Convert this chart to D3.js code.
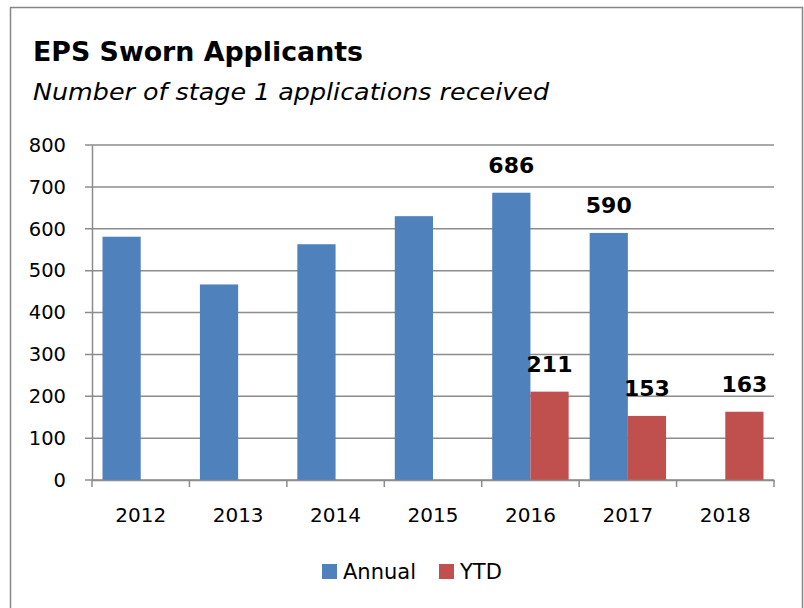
<!DOCTYPE html>
<html>
<head>
<meta charset="utf-8">
<script src="https://cdn.jsdelivr.net/npm/d3@7"></script>
<style>
  body { margin: 0; background: #fff; }
  svg { display: block; font-family: "DejaVu Sans", sans-serif; }
</style>
</head>
<body>
<div id="chart"></div>
<script>
// chart data
const years = ["2012", "2013", "2014", "2015", "2016", "2017", "2018"];
const annual = [581, 467, 563, 630, 686, 590, null];
const ytd = [null, null, null, null, 211, 153, 163];
const seriesNames = ["Annual", "YTD"];
const seriesColors = ["#4F81BD", "#C0504D"];
const yTicks = [0, 100, 200, 300, 400, 500, 600, 700, 800];
// which bars carry a value label
const labelAnnual = [false, false, false, false, true, true, false];
const labelYtd = [false, false, false, false, true, true, true];

const width = 804, height = 608;
const margin = {top: 145, right: 30, bottom: 128, left: 92};
const font = '"DejaVu Sans", sans-serif';

const svg = d3.select('#chart').append('svg')
    .attr('width', width)
    .attr('height', height);

// outer frame
svg.append('rect')
    .attr('x', 10.5).attr('y', 7.5)
    .attr('width', 792).attr('height', 620)
    .attr('fill', 'none')
    .attr('stroke', '#868686')
    .attr('stroke-width', 1.5);

svg.append('text')
    .attr('x', 33).attr('y', 61)
    .attr('font-size', 26)
    .attr('font-weight', 'bold')
    .attr('fill', '#000')
    .attr('textLength', 330)
    .attr('lengthAdjust', 'spacingAndGlyphs')
    .text('EPS Sworn Applicants');

svg.append('text')
    .attr('x', 33).attr('y', 100)
    .attr('font-size', 23)
    .attr('font-style', 'italic')
    .attr('fill', '#000')
    .attr('textLength', 516)
    .attr('lengthAdjust', 'spacingAndGlyphs')
    .text('Number of stage 1 applications received');

const plotW = 774 - margin.left;
const plotH = 480 - margin.top;

const chart = svg.append('g')
    .attr('transform', `translate(${margin.left},${margin.top})`);

const xScale = d3.scaleBand()
    .domain(years)
    .range([0, plotW])
    .padding(0);

const xInner = d3.scaleBand()
    .domain(seriesNames)
    .range([10.5, xScale.bandwidth() - 10.5])
    .padding(0);

const yScale = d3.scaleLinear()
    .domain([0, 800])
    .range([plotH, 0]);

// gridlines
chart.append('g')
    .selectAll('line')
    .data(yTicks)
    .join('line')
    .attr('x1', -7)
    .attr('x2', plotW)
    .attr('y1', d => yScale(d))
    .attr('y2', d => yScale(d))
    .attr('stroke', '#8c8c8c')
    .attr('stroke-width', 1.5);

// y axis
const yAxisG = chart.append('g')
    .call(d3.axisLeft(yScale).tickValues(yTicks).tickSize(0).tickPadding(26));
yAxisG.select('.domain').attr('stroke', '#8c8c8c').attr('stroke-width', 1.5);
yAxisG.selectAll('text')
    .attr('font-size', 19.5)
    .attr('font-family', font)
    .attr('fill', '#000');

// bars
const rows = years.map((y, i) => ({year: y, values: [annual[i], ytd[i]], labels: [labelAnnual[i], labelYtd[i]]}));

const groups = chart.append('g')
    .selectAll('g')
    .data(rows)
    .join('g')
    .attr('transform', d => `translate(${xScale(d.year)},0)`);

groups.selectAll('rect')
    .data(d => d.values.map((v, k) => ({key: seriesNames[k], value: v, color: seriesColors[k]})).filter(e => e.value != null))
    .join('rect')
    .attr('x', d => xInner(d.key))
    .attr('width', xInner.bandwidth())
    .attr('y', d => yScale(d.value))
    .attr('height', d => plotH - yScale(d.value))
    .attr('fill', d => d.color);

groups.selectAll('text.val')
    .data(d => d.values.map((v, k) => ({key: seriesNames[k], value: v, show: d.labels[k]})).filter(e => e.value != null && e.show))
    .join('text')
    .attr('class', 'val')
    .attr('x', d => xInner(d.key) + xInner.bandwidth() / 2)
    .attr('y', d => yScale(d.value) - 20)
    .attr('text-anchor', 'middle')
    .attr('font-size', 22)
    .attr('font-weight', 'bold')
    .attr('fill', '#000')
    .text(d => d.value);

// x axis
const xAxisG = chart.append('g')
    .attr('transform', `translate(0,${plotH})`)
    .call(d3.axisBottom(xScale).tickSize(0).tickPadding(28));
xAxisG.select('.domain').attr('stroke', '#8c8c8c').attr('stroke-width', 1.5);
xAxisG.selectAll('text')
    .attr('font-size', 20)
    .attr('font-family', font)
    .attr('fill', '#000');

// category separator ticks
chart.append('g')
    .selectAll('line')
    .data(d3.range(years.length + 1))
    .join('line')
    .attr('x1', i => i * xScale.step())
    .attr('x2', i => i * xScale.step())
    .attr('y1', plotH)
    .attr('y2', plotH + 7)
    .attr('stroke', '#8c8c8c')
    .attr('stroke-width', 1.5);

// legend
const legendX = [322, 439];
const legend = svg.append('g')
    .selectAll('g')
    .data(seriesNames)
    .join('g')
    .attr('transform', (d, i) => `translate(${legendX[i]},564)`);

legend.append('rect')
    .attr('width', 15).attr('height', 15)
    .attr('fill', (d, i) => seriesColors[i]);

legend.append('text')
    .attr('x', 21).attr('y', 15)
    .attr('font-size', 21)
    .attr('font-family', font)
    .attr('fill', '#000')
    .text(d => d);
</script>
</body>
</html>
